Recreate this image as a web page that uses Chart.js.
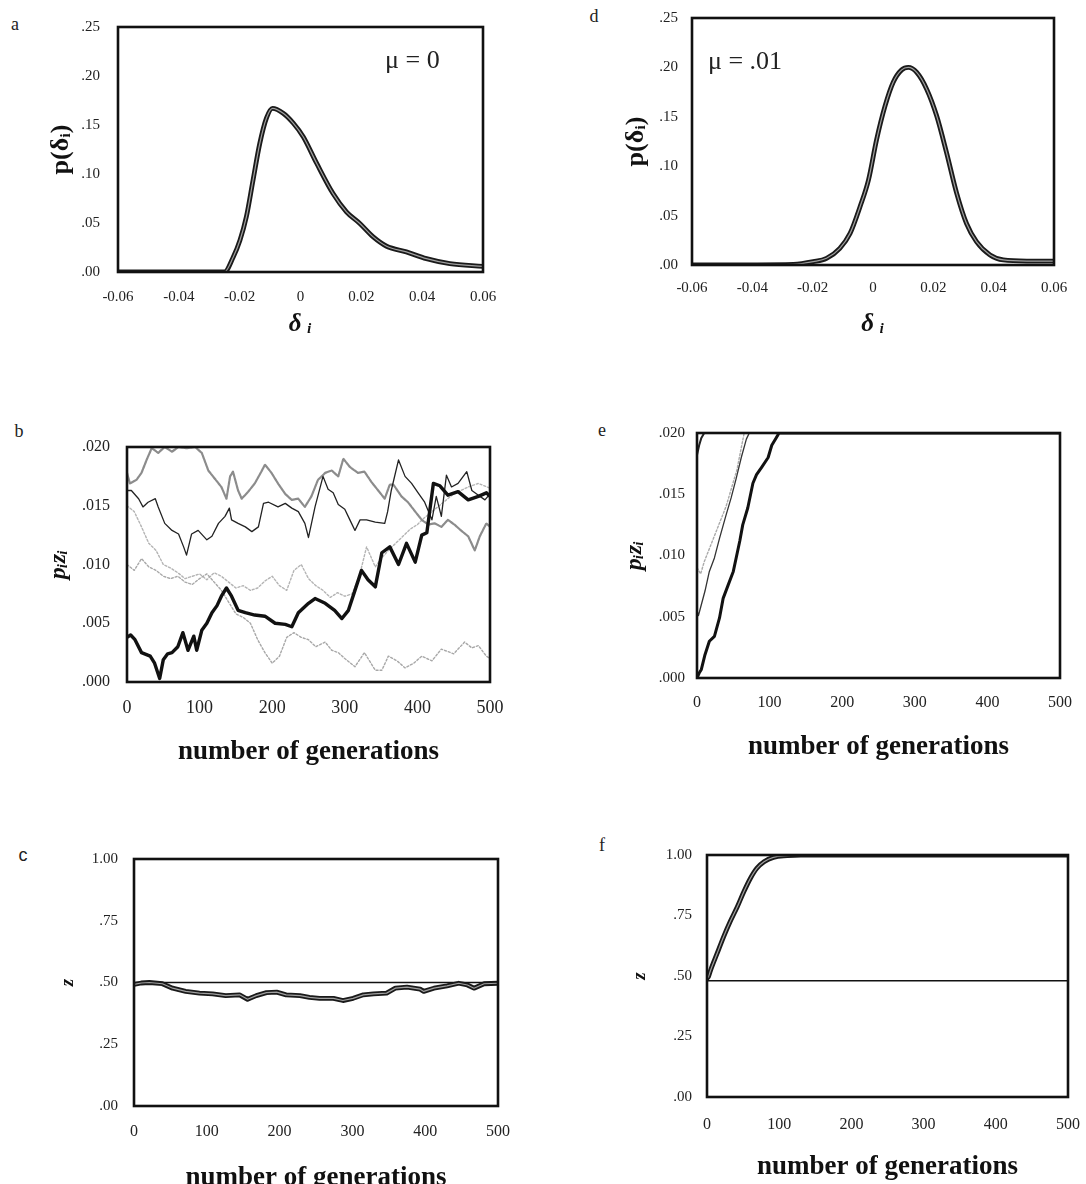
<!DOCTYPE html>
<html lang="en">
<head>
<meta charset="UTF-8" />
<title>Drift and selection panels</title>
<script src="https://cdn.jsdelivr.net/npm/chart.js"></script>
<style>
  html, body { margin: 0; padding: 0; background: #fff; overflow: hidden; }
  #page { position: relative; width: 1086px; height: 1184px; overflow: hidden; background: #fff; }
  canvas { position: absolute; }
  .tag {
    position: absolute;
    font-family: 'Liberation Serif', serif;
    font-size: 18px;
    color: #222;
    transform: translate(-50%, -50%);
  }
</style>
</head>
<body>
<div id="page">
  <div class="tag" style="left:15px;top:24px">a</div>
  <div class="tag" style="left:594px;top:16px">d</div>
  <div class="tag" style="left:19px;top:431px">b</div>
  <div class="tag" style="left:602px;top:430px">e</div>
  <div class="tag" style="left:23px;top:855px;font-family:'Liberation Sans',sans-serif">c</div>
  <div class="tag" style="left:602px;top:845px">f</div>
  <canvas id="chartA"></canvas>
  <canvas id="chartD"></canvas>
  <canvas id="chartB"></canvas>
  <canvas id="chartE"></canvas>
  <canvas id="chartC"></canvas>
  <canvas id="chartF"></canvas>
</div>

<script>
  // ---- tick labels ----
  const deltaTicks = ['-0.06', '-0.04', '-0.02', '0', '0.02', '0.04', '0.06'];
  const probTicks = ['.00', '.05', '.10', '.15', '.20', '.25'];
  const genTicks = ['0', '100', '200', '300', '400', '500'];
  const pzTicks = ['.000', '.005', '.010', '.015', '.020'];
  const zTicks = ['.00', '.25', '.50', '.75', '1.00'];

  // ---- panel a: distribution of delta_i, mu = 0 ----
  const aX = [-0.06, -0.025, -0.0221, -0.0199, -0.0178, -0.0156, -0.0134, -0.0112, -0.0092, -0.0057, -0.0024,
              0.0009, 0.0053, 0.0107, 0.0151, 0.0195, 0.0239, 0.0283, 0.0348, 0.0414, 0.0491, 0.06];
  const aY = [0, 0, 0.0153, 0.0324, 0.0563, 0.0938, 0.131, 0.157, 0.167, 0.162, 0.152,
              0.138, 0.111, 0.080, 0.0614, 0.0495, 0.0358, 0.0263, 0.0205, 0.0136, 0.0085, 0.0058];

  // ---- panel d: distribution of delta_i, mu = .01 ----
  const dX = [-0.06, -0.0264, -0.0198, -0.0154, -0.011, -0.0076, -0.0043, -0.0015, 0.0012, 0.004, 0.0067, 0.0095,
              0.0117, 0.0145, 0.0178, 0.0211, 0.0244, 0.0277, 0.031, 0.0343, 0.0388, 0.0432, 0.051, 0.06];
  const dY = [0, 0.0007, 0.0034, 0.0068, 0.0169, 0.032, 0.059, 0.086, 0.127, 0.161, 0.185, 0.1975,
              0.200, 0.195, 0.178, 0.151, 0.1135, 0.073, 0.042, 0.0237, 0.0102, 0.0051, 0.004, 0.004];

  // ---- panel b: p_i z_i over generations, mu = 0 ----
  const b1Gen = [0, 5, 11, 20, 32, 38, 45, 50, 56, 62, 70, 77, 84, 92, 96, 103, 110, 117, 124, 130,
                 137, 144, 153, 163, 176, 190, 204, 218, 227, 236, 250, 259, 273, 286, 296, 305, 314, 323, 332, 342,
                 351, 362, 374, 385, 397, 406, 413, 422, 431, 442, 456, 470, 484, 495, 500];
  const b1Val = [.0038, .0040, .0036, .0025, .0022, .0016, .0003, .0019, .0024, .0025, .0030, .0042, .0027, .0039, .0027, .0044, .0050, .0059, .0065, .0073,
                 .0080, .0073, .0061, .0059, .0057, .0056, .0050, .0049, .0047, .0059, .0067, .0071, .0067, .0061, .0054, .0061, .0078, .0095, .0087, .0081,
                 .0110, .0115, .0100, .0118, .0102, .0125, .0127, .0169, .0167, .0159, .0162, .0155, .0158, .0161, .0158];
  const b2Gen = [0, 6, 16, 22, 29, 39, 43, 52, 62, 71, 78, 82, 89, 98, 110, 117, 126, 135, 141, 144,
                 153, 163, 172, 181, 188, 195, 208, 218, 227, 236, 245, 250, 259, 270, 277, 284, 291, 300, 307, 314,
                 321, 330, 342, 355, 359, 364, 374, 383, 392, 401, 410, 420, 426, 433, 440, 447, 456, 468, 475, 484, 493, 500];
  const b2Val = [.0163, .0163, .0156, .0149, .0153, .0156, .0149, .0135, .0129, .0126, .0115, .0108, .0126, .0129, .0121, .0124, .0135, .0141, .0148, .0138,
                 .0135, .0132, .0128, .0132, .0152, .0153, .0149, .0152, .0148, .0145, .0135, .0123, .0149, .0175, .0164, .0161, .0151, .0147, .0138, .0129,
                 .0138, .0138, .0136, .0135, .0145, .0163, .0189, .0175, .0169, .0161, .0153, .0138, .0158, .0141, .0176, .0166, .0169, .0179, .0163, .0159, .0155, .0160];
  const b3Gen = [0, 4, 13, 20, 27, 34, 43, 52, 62, 71, 82, 94, 103, 112, 121, 130, 137, 142, 146, 153,
                 158, 167, 176, 185, 190, 199, 208, 218, 227, 236, 245, 254, 263, 273, 282, 291, 298, 307, 318, 327,
                 337, 346, 355, 362, 367, 378, 387, 397, 406, 415, 424, 433, 442, 451, 460, 470, 479, 486, 495, 500];
  const b3Val = [.0178, .0169, .0172, .0178, .0189, .0199, .0195, .0200, .0196, .0200, .0199, .0200, .0195, .0180, .0173, .0166, .0156, .0175, .0179, .0163,
                 .0156, .0162, .0169, .0179, .0185, .0178, .0169, .0160, .0155, .0156, .0149, .0158, .0172, .0178, .0180, .0175, .0190, .0183, .0178, .0179,
                 .0170, .0163, .0156, .0168, .0168, .0158, .0153, .0145, .0138, .0134, .0135, .0132, .0138, .0134, .0129, .0124, .0112, .0124, .0135, .0132];
  const b4Gen = [0, 10, 20, 30, 40, 50, 60, 70, 80, 90, 100, 110, 120, 130, 140, 150, 160, 170, 180, 190,
                 200, 210, 220, 230, 240, 250, 260, 273, 282, 291, 300, 314, 327, 342, 351, 360, 372,
                 383, 395, 406, 420, 433, 450, 465, 475, 484, 495, 500];
  const b4Val = [.0100, .0095, .0105, .0098, .0095, .0090, .0088, .0090, .0085, .0083, .0088, .0092, .0085, .0078, .0068, .0058, .0055, .0050, .0036, .0025,
                 .0016, .0022, .0038, .0042, .0038, .0036, .0030, .0034, .0027, .0025, .0020, .0013, .0025, .0010, .0010, .0022, .0018,
                 .0012, .0016, .0022, .0018, .0028, .0024, .0034, .0029, .0031, .0022, .0020];
  const b5Gen = [0, 10, 20, 30, 40, 50, 60, 70, 80, 90, 100, 110, 120, 130, 140, 150, 160, 170, 180, 190,
                 200, 210, 220, 230, 240, 250, 260, 270, 280, 290, 300, 310, 320, 330, 342, 350,
                 360, 370, 380, 390, 400, 410, 420, 430, 440, 450, 460, 470, 484, 500];
  const b5Val = [.0150, .0145, .0132, .0118, .0112, .0100, .0097, .0093, .0088, .0090, .0092, .0087, .0093, .0090, .0085, .0080, .0082, .0078, .0080, .0086,
                 .0090, .0082, .0078, .0095, .0100, .0088, .0082, .0078, .0072, .0076, .0073, .0075, .0090, .0115, .0098, .0105,
                 .0112, .0118, .0124, .0130, .0134, .0140, .0145, .0150, .0155, .0160, .0163, .0166, .0169, .0165];

  // ---- panel e: p_i z_i over generations, mu = .01 ----
  const e1Gen = [0, 3, 6, 11, 17, 24, 31, 36, 43, 50, 59, 63, 70, 77, 82, 89, 98, 103, 109, 113, 500];
  const e1Val = [.0000, .0004, .0007, .0019, .0030, .0034, .0049, .0065, .0076, .0087, .0112, .0125, .0139, .0159, .0166, .0172, .0180, .0190, .0196, .0200, .0200];
  const e2Gen = [0, 2, 11, 17, 24, 31, 40, 47, 54, 61, 68, 72, 500];
  const e2Val = [.0055, .0051, .0071, .0087, .0098, .0114, .0133, .0147, .0163, .0180, .0195, .0200, .0200];
  const e3Gen = [0, 5, 10, 20, 30, 40, 50, 55, 60, 65, 500];
  const e3Val = [.0090, .0085, .0095, .0110, .0125, .0140, .0160, .0170, .0185, .0200, .0200];
  const e4Gen = [0, 3, 6, 10, 500];
  const e4Val = [.0182, .0190, .0196, .0200, .0200];

  // ---- panel c: mean z, mu = 0 ----
  const cGen = [0, 10, 21, 39, 53, 71, 90, 108, 126, 145, 156, 168, 182, 196, 209, 228, 241, 255, 274, 287,
                301, 315, 329, 347, 359, 375, 393, 398, 412, 430, 446, 458, 467, 481, 500];
  const cVal = [.492, .498, .500, .495, .477, .464, .457, .454, .447, .450, .432, .447, .459, .461, .450, .447, .440, .436, .436, .427,
                .436, .450, .454, .457, .477, .481, .473, .464, .477, .486, .497, .490, .477, .495, .497];
  const cRefGen = [0, 500];
  const cRefVal = [0.50, 0.50];

  // ---- panel f: mean z, mu = .01 ----
  const fGen = [0, 2, 5, 14, 23, 32, 42, 51, 60, 69, 79, 92, 111, 130, 500];
  const fVal = [.490, .497, .524, .593, .662, .724, .786, .848, .903, .945, .972, .990, .997, 1.0, 1.0];
  const fRefGen = [0, 500];
  const fRefVal = [0.48, 0.48];

  // ---- layout of each panel (plot box in page pixels) ----
  const SERIF = "'Liberation Serif', 'DejaVu Serif', serif";
  const LH = 1.2;
  const layouts = {
    a: { box: [118, 27, 483, 272], yTitleX: 62, yTickGap: 18, xTickGap: 25, xTitleGap: 53 },
    d: { box: [692, 18, 1054, 265], yTitleX: 637, yTickGap: 14, xTickGap: 23, xTitleGap: 60 },
    b: { box: [127, 447, 490, 682], yTitleX: 58, yTickGap: 17, xTickGap: 26, xTitleGap: 70 },
    e: { box: [697, 433, 1060, 678], yTitleX: 634, yTickGap: 12, xTickGap: 25, xTitleGap: 69 },
    c: { box: [134, 859, 498, 1106], yTitleX: 68, yTickGap: 16, xTickGap: 26, xTitleGap: 72 },
    f: { box: [707, 855, 1068, 1097], yTitleX: 640, yTickGap: 15, xTickGap: 28, xTitleGap: 70 }
  };

  Chart.defaults.font.family = SERIF;
  Chart.defaults.animation = false;

  function pts(xs, ys) {
    return xs.map((x, i) => ({ x: x, y: ys[i] }));
  }

  // frame around the plot area
  const boxPlugin = {
    id: 'box',
    afterDatasetsDraw(chart) {
      const a = chart.chartArea, ctx = chart.ctx;
      ctx.save();
      ctx.strokeStyle = '#111';
      ctx.lineWidth = 2.6;
      ctx.strokeRect(a.left, a.top, a.right - a.left, a.bottom - a.top);
      ctx.restore();
    }
  };

  // the "mu = ..." label, placed in data units
  const notePlugin = {
    id: 'note',
    afterDraw(chart, args, opts) {
      if (!opts || !opts.text) return;
      const ctx = chart.ctx;
      ctx.save();
      ctx.font = opts.font;
      ctx.fillStyle = '#222';
      ctx.textAlign = 'left';
      ctx.textBaseline = 'middle';
      ctx.fillText(opts.text, chart.scales.x.getPixelForValue(opts.x), chart.scales.y.getPixelForValue(opts.y));
      ctx.restore();
    }
  };

  function makeChart(canvasId, lay, cfg) {
    const [L, T, R, B] = lay.box;
    const yW = Math.round(L - lay.yTitleX + cfg.yTitleSize * LH / 2);
    const xH = Math.round(lay.xTitleGap + cfg.xTitleSize * LH / 2);
    const padT = 14, padR = 34;
    const cv = document.getElementById(canvasId);
    cv.width = yW + (R - L) + padR;
    cv.height = padT + (B - T) + xH;
    cv.style.left = (L - yW) + 'px';
    cv.style.top = (T - padT) + 'px';

    const xLabels = cfg.xLabels, yLabels = cfg.yLabels;
    return new Chart(cv, {
      type: 'line',
      data: { datasets: cfg.datasets },
      options: {
        responsive: false,
        animation: false,
        layout: { padding: { left: 0, top: padT, right: padR, bottom: 0 } },
        elements: { point: { radius: 0 }, line: { borderCapStyle: 'round', borderJoinStyle: 'round' } },
        plugins: {
          legend: { display: false },
          tooltip: { enabled: false },
          note: cfg.note || {}
        },
        scales: {
          x: {
            type: 'linear',
            min: cfg.xMin, max: cfg.xMax,
            grid: { display: false, drawTicks: false },
            border: { display: false },
            ticks: {
              stepSize: cfg.xStep,
              autoSkip: false,
              maxRotation: 0,
              padding: lay.xTickGap - cfg.xTickSize * LH / 2,
              color: '#222',
              font: { family: SERIF, size: cfg.xTickSize, lineHeight: LH },
              callback: v => xLabels[Math.round((v - cfg.xMin) / cfg.xStep)]
            },
            title: {
              display: true,
              text: cfg.xTitle,
              color: '#111',
              padding: 0,
              font: { family: SERIF, size: cfg.xTitleSize, weight: 'bold', style: cfg.xTitleStyle || 'normal', lineHeight: LH }
            },
            afterFit(s) { s.height = xH; s.paddingLeft = 0; s.paddingRight = 0; }
          },
          y: {
            min: cfg.yMin, max: cfg.yMax,
            grid: { display: false, drawTicks: false },
            border: { display: false },
            ticks: {
              stepSize: cfg.yStep,
              autoSkip: false,
              padding: lay.yTickGap,
              color: '#222',
              font: { family: SERIF, size: cfg.yTickSize, lineHeight: LH },
              callback: v => yLabels[Math.round((v - cfg.yMin) / cfg.yStep)]
            },
            title: {
              display: true,
              text: cfg.yTitle,
              color: '#111',
              padding: 0,
              font: { family: SERIF, size: cfg.yTitleSize, weight: 'bold', style: cfg.yTitleStyle || 'normal', lineHeight: LH }
            },
            afterFit(s) { s.width = yW; s.paddingTop = 0; s.paddingBottom = 0; }
          }
        }
      },
      plugins: [boxPlugin, notePlugin]
    });
  }

  // thick curve drawn as dark outline with a grey core, like the printed figure
  function hollow(data, smooth) {
    const mode = smooth ? 'monotone' : 'default';
    return [
      { data: data, borderColor: '#a0a0a0', borderWidth: 1.2, tension: 0, cubicInterpolationMode: mode },
      { data: data, borderColor: '#1a1a1a', borderWidth: 4.8, tension: 0, cubicInterpolationMode: mode }
    ];
  }

  const deltaAxes = {
    xMin: -0.06, xMax: 0.06, xStep: 0.02, xLabels: deltaTicks,
    yMin: 0, yMax: 0.25, yStep: 0.05, yLabels: probTicks,
    xTickSize: 15, yTickSize: 15, xTitle: 'δ ᵢ', xTitleSize: 25, xTitleStyle: 'italic',
    yTitle: 'p(δᵢ)', yTitleSize: 26
  };

  makeChart('chartA', layouts.a, Object.assign({}, deltaAxes, {
    datasets: hollow(pts(aX, aY), true),
    note: { text: 'μ = 0', x: 0.0278, y: 0.215, font: "26px " + SERIF }
  }));

  makeChart('chartD', layouts.d, Object.assign({}, deltaAxes, {
    datasets: hollow(pts(dX, dY), true),
    note: { text: 'μ = .01', x: -0.0547, y: 0.205, font: "26px " + SERIF }
  }));

  const pzAxes = {
    xMin: 0, xMax: 500, xStep: 100, xLabels: genTicks,
    yMin: 0, yMax: 0.02, yStep: 0.005, yLabels: pzTicks,
    xTitle: 'number of generations', xTitleSize: 27,
    yTitle: 'pᵢzᵢ', yTitleSize: 24, yTitleStyle: 'italic'
  };

  makeChart('chartB', layouts.b, Object.assign({}, pzAxes, {
    xTickSize: 18, yTickSize: 16,
    datasets: [
      { data: pts(b1Gen, b1Val), borderColor: '#111', borderWidth: 3.4, tension: 0 },
      { data: pts(b2Gen, b2Val), borderColor: '#222', borderWidth: 1.3, tension: 0 },
      { data: pts(b3Gen, b3Val), borderColor: '#8c8c8c', borderWidth: 2.2, borderDash: [3, 1], tension: 0 },
      { data: pts(b4Gen, b4Val), borderColor: '#a8a8a8', borderWidth: 1.4, borderDash: [2, 2], tension: 0 },
      { data: pts(b5Gen, b5Val), borderColor: '#b4b4b4', borderWidth: 1.4, borderDash: [2, 2], tension: 0 }
    ]
  }));

  makeChart('chartE', layouts.e, Object.assign({}, pzAxes, {
    xTickSize: 16, yTickSize: 15,
    datasets: [
      { data: pts(e1Gen, e1Val), borderColor: '#111', borderWidth: 3, tension: 0 },
      { data: pts(e2Gen, e2Val), borderColor: '#333', borderWidth: 1.3, tension: 0 },
      { data: pts(e3Gen, e3Val), borderColor: '#aaa', borderWidth: 1.4, borderDash: [2, 2], tension: 0 },
      { data: pts(e4Gen, e4Val), borderColor: '#222', borderWidth: 2, tension: 0 }
    ]
  }));

  const zAxes = {
    xMin: 0, xMax: 500, xStep: 100, xLabels: genTicks,
    yMin: 0, yMax: 1, yStep: 0.25, yLabels: zTicks,
    xTickSize: 16, yTickSize: 15,
    xTitle: 'number of generations', xTitleSize: 27,
    yTitle: 'z', yTitleSize: 19, yTitleStyle: 'italic'
  };

  makeChart('chartC', layouts.c, Object.assign({}, zAxes, {
    datasets: hollow(pts(cGen, cVal), false).concat([
      { data: pts(cRefGen, cRefVal), borderColor: '#111', borderWidth: 1.5, tension: 0 }
    ])
  }));

  makeChart('chartF', layouts.f, Object.assign({}, zAxes, {
    datasets: hollow(pts(fGen, fVal), true).concat([
      { data: pts(fRefGen, fRefVal), borderColor: '#111', borderWidth: 1.5, tension: 0 }
    ])
  }));
</script>
</body>
</html>
